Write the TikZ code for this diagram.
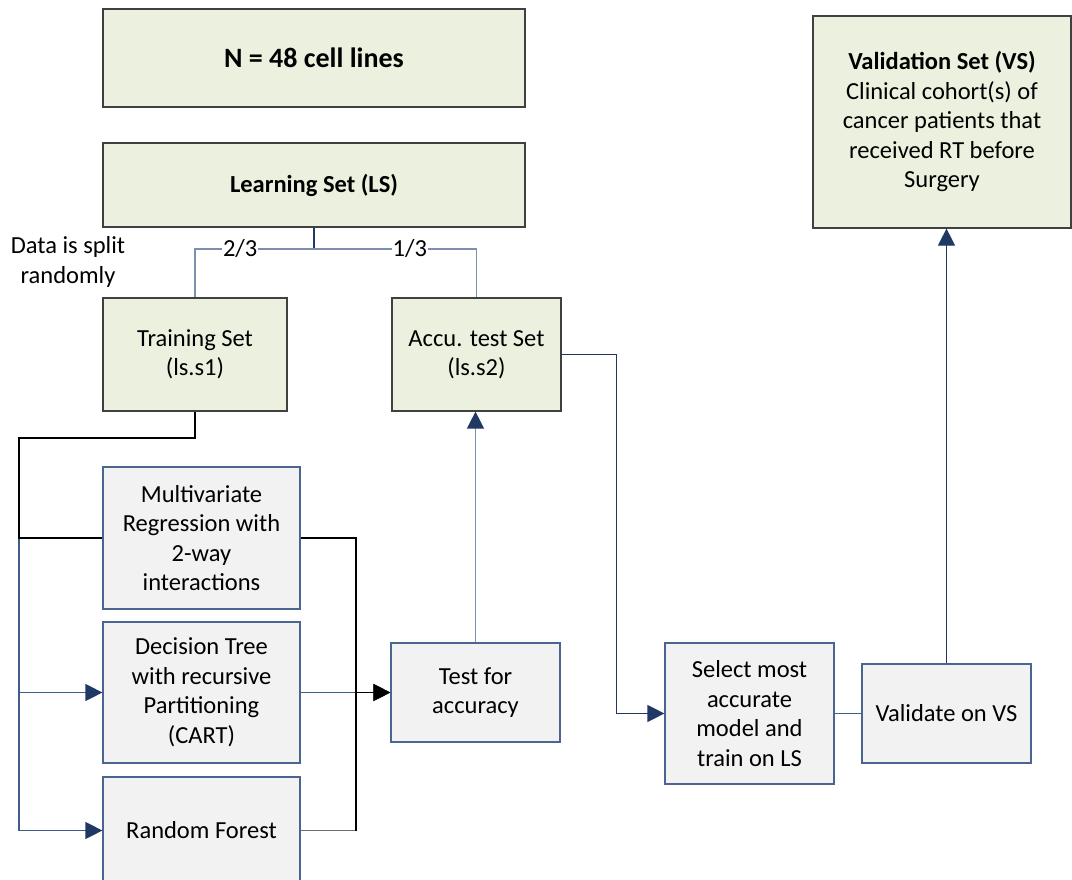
\documentclass[tikz,border=0pt]{standalone}
\usepackage{fontspec}
\setmainfont{Carlito}
\usetikzlibrary{arrows.meta}

\definecolor{boxgreen}{HTML}{EBF1DE}
\definecolor{boxgray}{HTML}{F2F2F2}
\definecolor{edgedark}{HTML}{404040}
\definecolor{edgeblue}{HTML}{4A6590}
\definecolor{navy}{HTML}{1F3864}
\definecolor{midblue}{HTML}{405C88}
\definecolor{slate}{HTML}{7A90AE}
\definecolor{wire}{HTML}{6E6E6E}

\begin{document}
\begin{tikzpicture}[x=1pt,y=-1pt,
  font=\fontsize{24.5}{29.5}\selectfont,
  greenbox/.style={draw=edgedark, fill=boxgreen, line width=1.2pt, align=center, inner sep=0pt},
  graybox/.style={draw=edgeblue, fill=boxgray, line width=1.2pt, align=center, inner sep=0pt},
  wirenavy/.style={draw=navy, line width=1.2pt},
  wireblue/.style={draw=midblue, line width=1.2pt},
  wireslate/.style={draw=slate, line width=1.3pt},
  wireblack/.style={draw=black, line width=1.2pt},
  navytip/.style={-{Triangle[length=17pt,width=17pt,color=navy]}},
  blacktip/.style={-{Triangle[length=17pt,width=17pt,color=black]}},
  ratio/.style={fill=white, inner sep=1pt},
]
\useasboundingbox (0,0) rectangle (1072,880);
\clip (0,0) rectangle (1072,880);

% data sets
\node[greenbox, minimum width=422pt, minimum height=98pt, font=\fontsize{28}{33}\selectfont\bfseries] (n48) at (314,58) {N = 48 cell lines};
\node[greenbox, minimum width=422pt, minimum height=84pt] (ls) at (314,185) {\bfseries Learning Set (LS)};
\node[greenbox, minimum width=184pt, minimum height=113pt] (tr) at (195,354.5) {Training Set\\(ls.s1)};
\node[greenbox, minimum width=169pt, minimum height=113pt] (ac) at (476.5,354.5) {Accu. test Set\\(ls.s2)};
\node[greenbox, minimum width=258pt, minimum height=212pt] (vs) at (942,122)
  {\textbf{Validation Set (VS)}\\Clinical cohort(s) of\\cancer patients that\\received RT before\\Surgery};

% models and steps
\node[graybox, minimum width=197pt, minimum height=142pt] (mr) at (201.5,538) {Multivariate\\Regression with\\2-way\\interactions};
\node[graybox, minimum width=197pt, minimum height=141pt] (dt) at (201.5,692.5) {Decision Tree\\with recursive\\Partitioning\\(CART)};
\node[graybox, minimum width=197pt, minimum height=107pt] (rf) at (201.5,830.5) {Random Forest};
\node[graybox, minimum width=169pt, minimum height=99pt] (ta) at (475.5,692.5) {Test for\\accuracy};
\node[graybox, minimum width=169pt, minimum height=141pt] (sel) at (749.5,713.5) {Select most\\accurate\\model and\\train on LS};
\node[graybox, minimum width=169pt, minimum height=99pt] (val) at (946.5,713.5) {Validate on VS};

\node[align=center, inner sep=0pt] (splitnote) at (68,262) {Data is split\\randomly};

% random split of the learning set
\coordinate (split) at (314,249);
\draw[wirenavy] (ls.south) -- (split);
\draw[wireslate] (split) -- node[ratio, pos=0.62] {2/3} (tr.north |- split) -- (tr.north);
\draw[wireslate] (split) -- node[ratio, pos=0.59] {1/3} (ac.north |- split) -- (ac.north);

% training set feeds the three models
\coordinate (bend) at (19,438);
\draw[wireblue, navytip] (tr.south) |- (bend) |- (dt.west);
\draw[wireblue, navytip] (tr.south) |- (bend) |- (rf.west);
\draw[wireblack] (tr.south) |- (bend) |- (mr.west);

% models go to the accuracy test
\coordinate (join) at (356,692.5);
\draw[wireblue, navytip] (dt.east) -- (ta.west);
\draw[wire, line width=1.3pt] (rf.east) -- (rf.east -| join);
\draw[wireblack] (rf.east -| join) -- (join);
\draw[wireblack, blacktip] (mr.east) -| (join) -- (ta.west);

% accuracy test back to the test set, then on to selection and validation
\draw[wireslate, navytip] (ta.north) -- (ta.north |- ac.south);
\draw[wirenavy, navytip] (ac.east) -| ([xshift=-48pt]sel.west) -- (sel.west);
\draw[wireblue] (sel.east) -- (val.west);
\draw[wirenavy, navytip] (val.north) -- (val.north |- vs.south);
\end{tikzpicture}
\end{document}
